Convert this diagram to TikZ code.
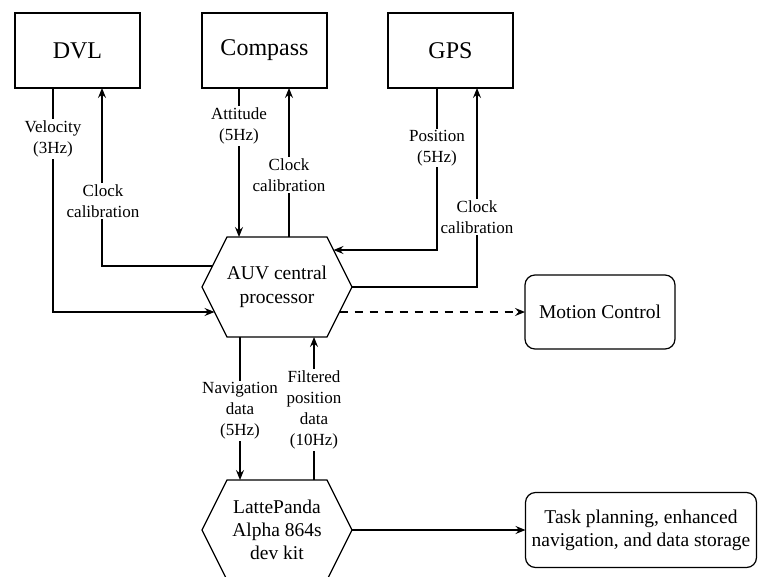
\documentclass[tikz,border=0pt]{standalone}
\usepackage{fontspec}
\setmainfont{Liberation Serif}
\newfontfamily\diagfont{Liberation Serif}
\usetikzlibrary{arrows.meta,calc}

\begin{document}
\begin{tikzpicture}[x=1pt,y=-1pt,
  line width=1.2pt,
  every node/.style={outer sep=0pt},
  sensor/.style={draw, minimum width=125pt, minimum height=75pt,
    font=\diagfont\fontsize{24}{28}\selectfont},
  hexcore/.style={minimum width=150pt, minimum height=100pt, align=center,
    font=\diagfont\fontsize{19.5}{24.5}\selectfont},
  roundbox/.style={draw, rounded corners=10pt, align=center,
    font=\diagfont\fontsize{19.5}{23}\selectfont},
  lbl/.style={fill=white, inner sep=1.5pt, align=center,
    font=\diagfont\fontsize{17}{21}\selectfont},
  arr/.style={-{Stealth[length=10pt,width=8pt,inset=3.5pt]}},
  dashline/.style={dash pattern=on 8pt off 7pt}
]
\useasboundingbox (0,0) rectangle (758,576);

% sensor boxes
\node[sensor] (dvl)     at (77.5,50.5)  {DVL};
\node[sensor] (compass) at (264.5,50.5) {Compass};
\node[sensor] (gps)     at (450.5,50.5) {GPS};

% central processor (hexagon outline drawn around the node)
\node[hexcore] (auv) at (277,287) {AUV central\\processor};
\draw (auv.west) -- ([xshift=25pt]auv.north west) -- ([xshift=-25pt]auv.north east)
  -- (auv.east) -- ([xshift=-25pt]auv.south east) -- ([xshift=25pt]auv.south west) -- cycle;

% dev kit hexagon
\node[hexcore, font=\diagfont\fontsize{19.5}{23}\selectfont] (latte) at (277,530) {LattePanda\\Alpha 864s\\dev kit};
\draw (latte.west) -- ([xshift=25pt]latte.north west) -- ([xshift=-25pt]latte.north east)
  -- (latte.east) -- ([xshift=-25pt]latte.south east) -- ([xshift=25pt]latte.south west) -- cycle;

% output boxes
\node[roundbox, minimum width=150pt, minimum height=74pt] (motion) at (600,312) {Motion Control};
\node[roundbox, minimum width=231pt, minimum height=75pt] (task) at (641,530)
  {Task planning, enhanced\\navigation, and data storage};

% attachment points on the slanted hexagon edges
\coordinate (auvLinLow)  at (214.5,312);
\coordinate (auvLinUp)   at (212.5,266);
\coordinate (auvRinUp)   at (333.5,250);
\coordinate (auvRoutLow) at (339.5,312);

% sensor links
\draw[arr] ([xshift=-24.5pt]dvl.south) |- (auvLinLow);
\draw[arr] (auvLinUp) -| ([xshift=24.5pt]dvl.south);
\draw[arr] ([xshift=-25.5pt]compass.south) -- ([xshift=-25.5pt]compass.south |- auv.north);
\draw[arr] ([xshift=24.5pt]compass.south |- auv.north) -- ([xshift=24.5pt]compass.south);
\draw[arr] ([xshift=-13.5pt]gps.south) |- (auvRinUp);
\draw[arr] (auv.east) -| ([xshift=26.5pt]gps.south);

% outputs
\draw[arr, dashline] (auvRoutLow) -- (motion.west);
\draw[arr] ([xshift=-37pt]auv.south) -- ([xshift=-37pt]auv.south |- latte.north);
\draw[arr] ([xshift=37pt]latte.north) -- ([xshift=37pt]latte.north |- auv.south);
\draw[arr] (latte.east) -- (task.west |- latte.east);

% link labels
\node[lbl] (lvel)  at (53,139)  {Velocity\\(3Hz)};
\node[lbl] (lclk1) at (103,201) {Clock\\calibration};
\node[lbl] (latt)  at (239,126) {Attitude\\(5Hz)};
\node[lbl] (lclk2) at (289,175) {Clock\\calibration};
\node[lbl] (lpos)  at (437,148) {Position\\(5Hz)};
\node[lbl] (lclk3) at (477,217) {Clock\\calibration};
\node[lbl] (lnav)  at (240,411) {Navigation\\data\\(5Hz)};
\node[lbl] (lfilt) at (314,410) {Filtered\\position\\data\\(10Hz)};
\end{tikzpicture}
\end{document}
